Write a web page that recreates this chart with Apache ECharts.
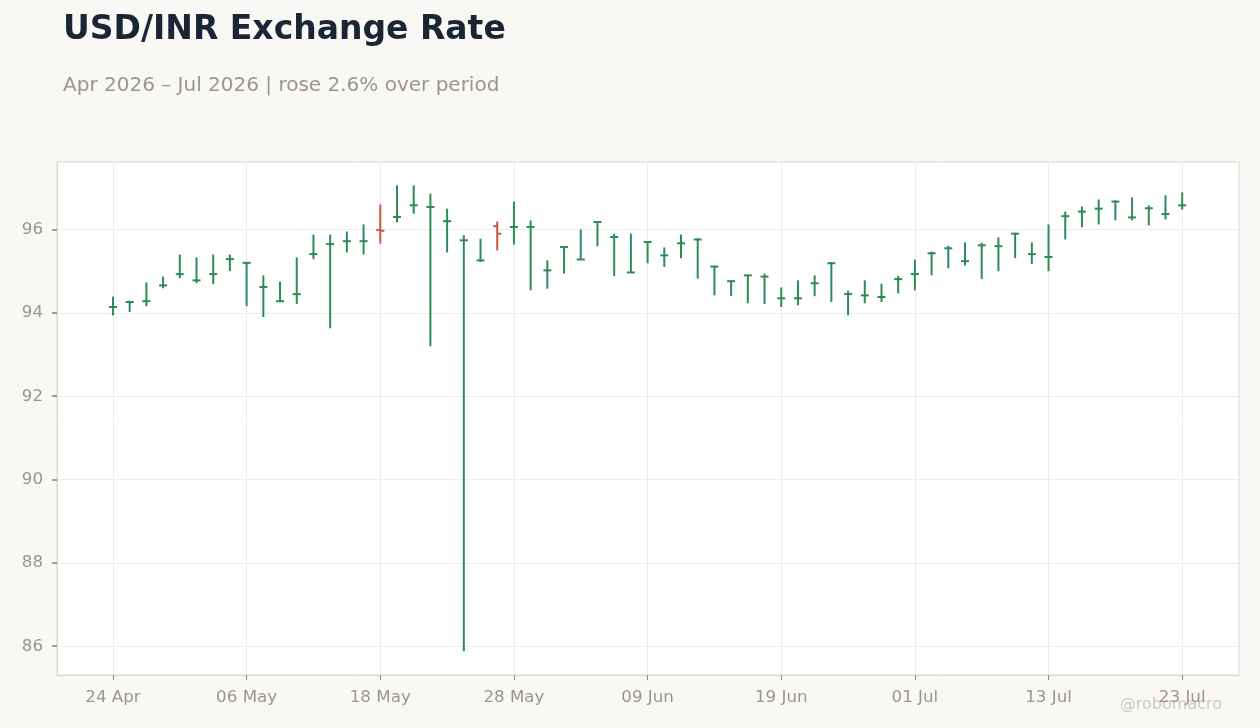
<!DOCTYPE html>
<html>
<head>
<meta charset="utf-8">
<title>USD/INR Exchange Rate</title>
<script src="https://cdn.jsdelivr.net/npm/echarts@6/dist/echarts.min.js"></script>
<style>
  html, body { margin: 0; padding: 0; background: #f9f8f5; }
  #main { width: 1260px; height: 728px; }
</style>
</head>
<body>
<div id="main"></div>
<script>
// trading days (weekdays), 24 Apr - 23 Jul 2026
var dates = [
  '24 Apr','27 Apr','28 Apr','29 Apr','30 Apr',
  '01 May','04 May','05 May','06 May','07 May','08 May','11 May','12 May','13 May','14 May','15 May',
  '18 May','19 May','20 May','21 May','22 May','25 May','26 May','27 May','28 May','29 May',
  '01 Jun','02 Jun','03 Jun','04 Jun','05 Jun','08 Jun','09 Jun','10 Jun','11 Jun','12 Jun',
  '15 Jun','16 Jun','17 Jun','18 Jun','19 Jun','22 Jun','23 Jun','24 Jun','25 Jun','26 Jun',
  '29 Jun','30 Jun','01 Jul','02 Jul','03 Jul','06 Jul','07 Jul','08 Jul','09 Jul','10 Jul',
  '13 Jul','14 Jul','15 Jul','16 Jul','17 Jul','20 Jul','21 Jul','22 Jul','23 Jul'
];

var opens = [
  94.14, 94.26, 94.28, 94.66, 94.93, 94.78, 94.93, 95.29, 95.20, 94.62,
  94.28, 94.45, 95.41, 95.65, 95.72, 95.72, 95.99, 96.30, 96.58, 96.54,
  96.20, 95.74, 95.26, 96.08, 96.06, 96.06, 95.02, 95.58, 95.28, 96.18,
  95.82, 94.97, 95.70, 95.38, 95.67, 95.76, 95.11, 94.76, 94.90, 94.87,
  94.35, 94.35, 94.71, 95.19, 94.45, 94.42, 94.38, 94.81, 94.93, 95.43,
  95.55, 95.24, 95.62, 95.60, 95.90, 95.41, 95.34, 96.32, 96.43, 96.50,
  96.67, 96.29, 96.51, 96.37, 96.58
];
var highs = [
  94.39, 94.29, 94.73, 94.87, 95.40, 95.33, 95.40, 95.40, 95.22, 94.90,
  94.75, 95.33, 95.88, 95.88, 95.95, 96.12, 96.60, 97.06, 97.06, 96.86,
  96.50, 95.86, 95.78, 96.19, 96.67, 96.22, 95.26, 95.59, 96.00, 96.19,
  95.90, 95.90, 95.71, 95.57, 95.88, 95.79, 95.13, 94.78, 94.91, 94.94,
  94.61, 94.78, 94.90, 95.22, 94.53, 94.78, 94.70, 94.89, 95.28, 95.47,
  95.61, 95.69, 95.68, 95.81, 95.92, 95.69, 96.12, 96.43, 96.55, 96.72,
  96.70, 96.77, 96.58, 96.82, 96.89
];
var lows = [
  93.94, 94.02, 94.16, 94.59, 94.83, 94.71, 94.69, 95.00, 94.16, 93.90,
  94.26, 94.21, 95.29, 93.63, 95.45, 95.40, 95.66, 96.17, 96.38, 93.20,
  95.45, 85.88, 95.22, 95.50, 95.64, 94.54, 94.58, 94.94, 95.28, 95.60,
  94.88, 94.96, 95.19, 95.10, 95.31, 94.82, 94.42, 94.40, 94.23, 94.21,
  94.14, 94.18, 94.40, 94.26, 93.94, 94.23, 94.26, 94.47, 94.54, 94.90,
  95.07, 95.14, 94.81, 95.00, 95.31, 95.17, 95.00, 95.76, 96.05, 96.12,
  96.22, 96.22, 96.10, 96.24, 96.48
];
var closes = [
  94.14, 94.26, 94.28, 94.66, 94.93, 94.78, 94.93, 95.29, 95.20, 94.62,
  94.28, 94.45, 95.41, 95.65, 95.72, 95.72, 95.97, 96.30, 96.58, 96.54,
  96.20, 95.74, 95.26, 95.90, 96.06, 96.06, 95.02, 95.58, 95.28, 96.18,
  95.82, 94.97, 95.70, 95.38, 95.67, 95.76, 95.11, 94.76, 94.90, 94.87,
  94.35, 94.35, 94.71, 95.19, 94.45, 94.42, 94.38, 94.81, 94.93, 95.43,
  95.55, 95.24, 95.62, 95.60, 95.90, 95.41, 95.34, 96.32, 96.43, 96.50,
  96.67, 96.29, 96.51, 96.37, 96.58
];

var xTicks = [0, 8, 16, 24, 32, 40, 48, 56, 64];
var yTicks = [86, 88, 90, 92, 94, 96];

var upColor = '#2e8b57';
var downColor = '#c85a3c';

var ohlc = [];
for (var i = 0; i < dates.length; i++) {
  ohlc.push([i, opens[i], closes[i], lows[i], highs[i]]);
}

function renderOhlc(params, api) {
  var x = api.value(0);
  var o = api.coord([x, api.value(1)]);
  var c = api.coord([x, api.value(2)]);
  var l = api.coord([x, api.value(3)]);
  var h = api.coord([x, api.value(4)]);
  var color = api.value(2) >= api.value(1) ? upColor : downColor;
  var st = { stroke: color, lineWidth: 2 };
  var w = 4;
  return {
    type: 'group',
    children: [
      { type: 'line', shape: { x1: h[0], y1: h[1], x2: l[0], y2: l[1] }, style: st },
      { type: 'line', shape: { x1: o[0] - w, y1: o[1], x2: o[0], y2: o[1] }, style: st },
      { type: 'line', shape: { x1: c[0], y1: c[1], x2: c[0] + w, y2: c[1] }, style: st }
    ]
  };
}

var myChart = echarts.init(document.getElementById('main'));
var gridLine = { color: '#efedeb', width: 1 };
var frameLine = { color: '#dcd7d1', width: 1 };

var option = {
  backgroundColor: '#f9f8f5',
  animation: false,
  textStyle: { fontFamily: 'DejaVu Sans' },
  graphic: [
    {
      type: 'text', left: 63, top: 14,
      style: { text: 'USD/INR Exchange Rate', fill: '#1c2535', font: 'bold 33px "DejaVu Sans"' }
    },
    {
      type: 'text', left: 63, top: 76,
      style: { text: 'Apr 2026 \u2013 Jul 2026 | rose 2.6% over period', fill: '#9a9590', font: '20px "DejaVu Sans"' }
    },
    {
      type: 'text', right: 38, top: 697,
      style: { text: '@robomacro', fill: '#cdc9c4', font: '16px "DejaVu Sans"' }
    }
  ],
  grid: {
    left: 57, right: 21, top: 162, bottom: 53,
    show: true, backgroundColor: '#ffffff', borderColor: '#dcd7d1', borderWidth: 1
  },
  xAxis: {
    type: 'value',
    min: -3.35, max: 67.4,
    axisLine: { show: true, onZero: false, lineStyle: frameLine },
    axisTick: { show: true, inside: false, customValues: xTicks, length: 5, lineStyle: { color: '#8c8680', width: 1 } },
    splitLine: { show: true, lineStyle: gridLine },
    axisLabel: {
      customValues: xTicks, margin: 14, color: '#9a9590', fontSize: 16.7,
      formatter: function (v) { return dates[Math.round(v)] || ''; }
    }
  },
  yAxis: {
    type: 'value',
    min: 85.31, max: 97.62,
    axisLine: { show: true, onZero: false, lineStyle: frameLine },
    axisTick: { show: true, inside: false, customValues: yTicks, length: 5, lineStyle: { color: '#857f79', width: 1.5 } },
    splitLine: { show: true, lineStyle: gridLine },
    axisLabel: { customValues: yTicks, margin: 14, color: '#9a9590', fontSize: 16.7 }
  },
  series: [
    {
      type: 'custom',
      renderItem: renderOhlc,
      encode: { x: 0, y: [1, 2, 3, 4] },
      data: ohlc,
      clip: true
    }
  ]
};
myChart.setOption(option);
</script>
</body>
</html>
